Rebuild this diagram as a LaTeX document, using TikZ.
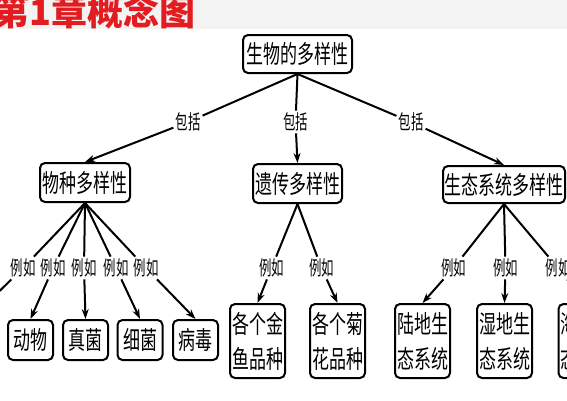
\documentclass[tikz,border=0pt]{standalone}
\usepackage{fontspec}
\newfontfamily\cjk{Noto Sans CJK SC}
\usetikzlibrary{arrows.meta}
\newcommand\sqz[1]{\scalebox{0.68}[1]{#1}}
\newcommand\sql[1]{\scalebox{0.62}[1]{#1}}
\definecolor{titlered}{RGB}{226,28,32}
\definecolor{bandgray}{RGB}{243,243,243}
\begin{document}
\begin{tikzpicture}[x=1pt,y=-1pt,
  box/.style={draw, line width=2pt, rounded corners=5pt, inner sep=0pt,
    font=\cjk\fontsize{25}{35}\selectfont, align=center},
  topbox/.style={box, minimum height=38pt},
  smallbox/.style={box, minimum width=45pt, minimum height=40pt},
  tallbox/.style={box, minimum width=55pt, minimum height=74pt},
  lbl/.style={inner sep=2pt, font=\cjk\fontsize{20}{20}\selectfont},
  conn/.style={line width=2pt},
  arr/.style={line width=2pt, -{Stealth[length=10pt,width=7pt]}}]
\useasboundingbox (0,0) rectangle (567,400);
\clip (0,0) rectangle (567,400);
\fill[bandgray] (0,0) rectangle (567,29);
\node[anchor=base west, inner sep=0pt, text=titlered,
  font=\cjk\bfseries\fontsize{36}{36}\selectfont] (title) at (-7,25) {第1章概念图};
% main nodes
\node[topbox, minimum width=109pt] (root) at (297.5,54) {\sqz{生物的多样性}};
\node[topbox, minimum width=90pt, minimum height=39pt] (species) at (85,182.5) {\sqz{物种多样性}};
\node[topbox, minimum width=89pt, minimum height=39pt] (gene) at (297.5,183.5) {\sqz{遗传多样性}};
\node[topbox, minimum width=122pt, minimum height=37pt] (eco) at (504,184.5) {\sqz{生态系统多样性}};
% leaves
\coordinate (offleft) at (-30,320);
\node[smallbox] (animal) at (30.5,340) {\sqz{动物}};
\node[smallbox] (fungus) at (85.5,340) {\sqz{真菌}};
\node[smallbox] (bacteria) at (140,340) {\sqz{细菌}};
\node[smallbox] (virus) at (195.5,340) {\sqz{病毒}};
\node[tallbox] (goldfish) at (257.5,341) {\sqz{各个金}\\\sqz{鱼品种}};
\node[tallbox] (chrys) at (337.5,341) {\sqz{各个菊}\\\sqz{花品种}};
\node[tallbox] (land) at (422.5,341) {\sqz{陆地生}\\\sqz{态系统}};
\node[tallbox] (wet) at (504.5,341) {\sqz{湿地生}\\\sqz{态系统}};
\node[tallbox] (ocean) at (586,341) {\sqz{海洋生}\\\sqz{态系统}};
% labels
\node[lbl] (b1) at (188,122) {\sql{包括}};
\node[lbl] (b2) at (295.5,122) {\sql{包括}};
\node[lbl] (b3) at (411,122) {\sql{包括}};
\node[lbl] (s0) at (23,268) {\sql{例如}};
\node[lbl] (s1) at (53,268) {\sql{例如}};
\node[lbl] (s2) at (84,268) {\sql{例如}};
\node[lbl] (s3) at (116,268) {\sql{例如}};
\node[lbl] (s4) at (146,268) {\sql{例如}};
\node[lbl] (g1) at (271.5,268) {\sql{例如}};
\node[lbl] (g2) at (321.5,268) {\sql{例如}};
\node[lbl] (e1) at (453.5,268) {\sql{例如}};
\node[lbl] (e2) at (505.5,268) {\sql{例如}};
\node[lbl] (e3) at (558,268) {\sql{例如}};
% connectors
\draw[conn] (root.south) -- (b1); \draw[arr] (b1) -- (species.north);
\draw[conn] (root.south) -- (b2); \draw[arr] (b2) -- (gene.north);
\draw[conn] (root.south) -- (b3); \draw[arr] (b3) -- (eco.north);
\draw[conn] (species.south) -- (s0); \draw[conn] (s0) -- (offleft);
\draw[conn] (species.south) -- (s1); \draw[arr] (s1) -- (animal.north);
\draw[conn] (species.south) -- (s2); \draw[arr] (s2) -- (fungus.north);
\draw[conn] (species.south) -- (s3); \draw[arr] (s3) -- (bacteria.north);
\draw[conn] (species.south) -- (s4); \draw[arr] (s4) -- (virus.north);
\draw[conn] (gene.south) -- (g1); \draw[arr] (g1) -- (goldfish.north);
\draw[conn] (gene.south) -- (g2); \draw[arr] (g2) -- (chrys.north);
\draw[conn] (eco.south) -- (e1); \draw[arr] (e1) -- (land.north);
\draw[conn] (eco.south) -- (e2); \draw[arr] (e2) -- (wet.north);
\draw[conn] (eco.south) -- (e3); \draw[arr] (e3) -- (ocean.north);
\end{tikzpicture}
\end{document}
